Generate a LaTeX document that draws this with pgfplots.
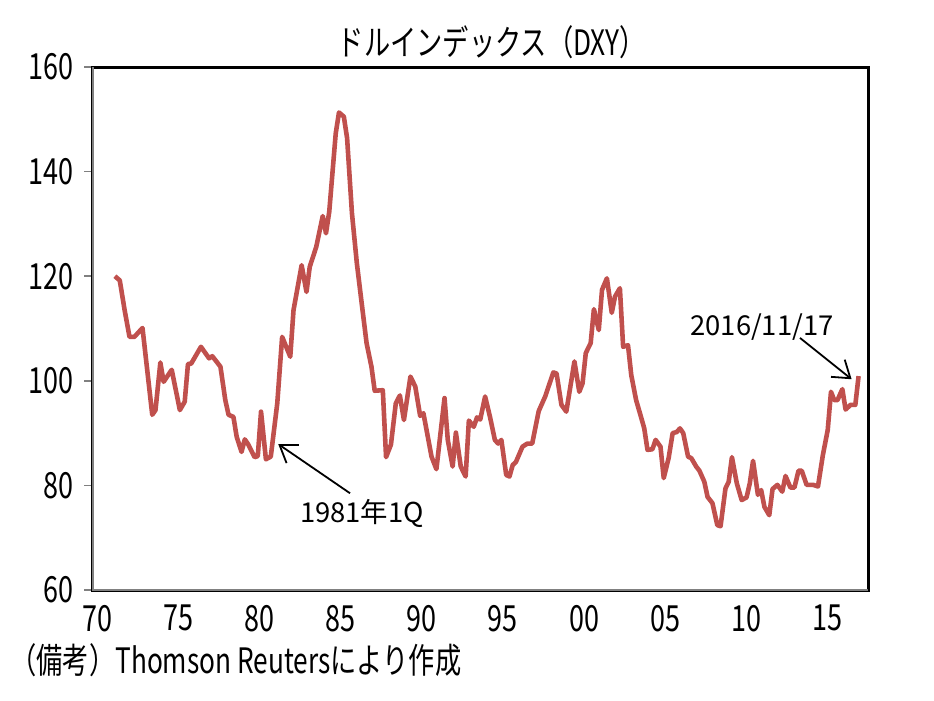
\documentclass[border=0pt]{standalone}
\usepackage{fontspec}
\setmainfont{Noto Sans CJK JP}[FakeStretch=0.75]
\newfontfamily\jpfont{Noto Sans CJK JP}
\usepackage{pgfplots}
\pgfplotsset{compat=1.18}
\usetikzlibrary{arrows.meta}
\definecolor{dxyred}{RGB}{192,80,77}
\begin{document}
\begin{tikzpicture}
\useasboundingbox (0,0) rectangle (467pt,-350.5pt);
\node[font=\fontsize{17.5}{20}\selectfont, inner sep=0pt] at (246pt,-21pt) {ドルインデックス（DXY）};
\node[font=\fontsize{17.5}{20}\selectfont, inner sep=0pt, anchor=west] at (5pt,-330pt) {（備考）Thomson Reutersにより作成};
\begin{axis}[
  at={(46pt,-295pt)}, anchor=south west,
  scale only axis, width=388pt, height=261.5pt,
  xmin=1969.69, xmax=2017.48, ymin=60, ymax=160,
  xtick={1970,1975,...,2015},
  xticklabels={70,75,80,85,90,95,00,05,10,15},
  ytick={60,80,...,160},
  /pgf/number format/assume math mode=true,
  ticklabel style={font=\fontsize{18}{20}\selectfont},
  x tick label style={yshift=0pt},
  y tick label style={xshift=-1.5pt},
  tick align=outside,
  ytick pos=left,
  xtick style={draw=none},
  ytick style={gray, line width=0.8pt},
  major tick length=4pt,
  axis line style={black, line width=1.5pt},
]
\addplot[dxyred, line width=2.3pt, line join=round] coordinates {
(1971.1,120.0) (1971.4,119.2) (1971.7,113.5) (1972.0,108.4) (1972.3,108.4)
(1972.8,110.1) (1973.4,93.5) (1973.6,94.4) (1973.9,103.5) (1974.1,99.8)
(1974.6,102.1) (1975.1,94.4) (1975.4,96.0) (1975.6,103.2) (1975.8,103.3)
(1976.4,106.5) (1976.9,104.3) (1977.1,104.7) (1977.6,102.7) (1977.9,96.3)
(1978.1,93.5) (1978.4,93.1) (1978.6,89.3) (1978.9,86.4) (1979.1,88.8)
(1979.3,87.9) (1979.7,85.4) (1979.9,85.6) (1980.1,94.1) (1980.4,85.0)
(1980.7,85.5) (1981.1,95.7) (1981.4,108.4) (1981.9,104.6) (1982.1,113.5)
(1982.6,122.1) (1982.9,117.0) (1983.1,121.8) (1983.5,125.6) (1983.9,131.5)
(1984.1,128.2) (1984.3,132.3) (1984.7,147.3) (1984.9,151.3) (1985.2,150.5)
(1985.4,146.4) (1985.7,132.0) (1986.0,122.5) (1986.3,114.8) (1986.6,107.2)
(1986.9,102.7) (1987.1,98.1) (1987.6,98.2) (1987.8,85.4) (1988.1,87.8)
(1988.4,95.7) (1988.65,97.2) (1988.9,92.5) (1989.3,100.8) (1989.6,98.9)
(1989.9,93.3) (1990.1,93.8) (1990.6,85.5) (1990.9,83.1) (1991.4,96.7)
(1991.6,88.7) (1991.9,83.6) (1992.1,90.1) (1992.4,83.6) (1992.7,81.7)
(1992.9,92.4) (1993.2,91.2) (1993.4,93.0) (1993.6,92.6) (1993.9,97.0)
(1994.2,93.1) (1994.5,88.7) (1994.7,88.0) (1994.9,88.7) (1995.2,82.0)
(1995.4,81.7) (1995.6,83.9) (1995.8,84.5) (1996.2,87.4) (1996.5,88.0)
(1996.8,88.0) (1997.2,94.2) (1997.6,97.0) (1998.1,101.6) (1998.3,101.4)
(1998.6,95.4) (1998.9,94.1) (1999.4,103.7) (1999.7,97.9) (1999.9,99.5)
(2000.1,105.3) (2000.4,107.2) (2000.6,113.7) (2000.9,109.7) (2001.1,117.4)
(2001.4,119.6) (2001.7,113.0) (2001.9,116.1) (2002.2,117.7) (2002.4,106.5)
(2002.7,106.8) (2002.9,101.1) (2003.2,96.3) (2003.5,93.1) (2003.7,90.9)
(2003.9,86.8) (2004.2,86.9) (2004.4,88.7) (2004.7,87.4) (2004.9,81.4)
(2005.2,85.2) (2005.45,90.0) (2005.7,90.2) (2005.9,90.9) (2006.1,90.0)
(2006.4,85.5) (2006.6,85.2) (2006.9,83.6) (2007.1,82.8) (2007.4,80.7)
(2007.6,77.8) (2007.9,76.6) (2008.2,72.4) (2008.4,72.2) (2008.7,79.4)
(2008.9,80.7) (2009.1,85.4) (2009.4,80.4) (2009.7,77.2) (2010.0,77.7)
(2010.2,80.4) (2010.4,84.7) (2010.7,78.2) (2010.9,79.1) (2011.1,75.9)
(2011.4,74.3) (2011.6,79.3) (2011.9,80.1) (2012.2,78.8) (2012.4,81.8)
(2012.7,79.6) (2012.95,79.6) (2013.2,82.8) (2013.4,82.8) (2013.7,80.1)
(2014.1,80.1) (2014.4,79.8) (2014.7,85.8) (2015.0,90.6) (2015.2,97.9)
(2015.4,96.3) (2015.6,96.3) (2015.9,98.4) (2016.1,94.5) (2016.4,95.4)
(2016.7,95.4) (2016.9,100.9)
};
\draw[gray, line width=1.5pt] (rel axis cs:0,1) -- (rel axis cs:0,0) -- (rel axis cs:1,0);
\draw[line width=0.9pt, -{Straight Barb[length=8pt,width=11pt]}] (axis cs:1985.58,78.5) -- (axis cs:1981.16,87.9);
\node[font=\jpfont\fontsize{13.7}{16}\selectfont, inner sep=0pt] at (axis cs:1986.32,74.7) {1981年1Q};
\draw[line width=0.9pt, -{Straight Barb[length=8pt,width=11pt]}] (axis cs:2013.29,108.2) -- (axis cs:2016.47,100.3);
\node[font=\jpfont\fontsize{13.7}{16}\selectfont, inner sep=0pt] at (axis cs:2010.95,110.3) {2016/11/17};
\end{axis}
\end{tikzpicture}
\end{document}
